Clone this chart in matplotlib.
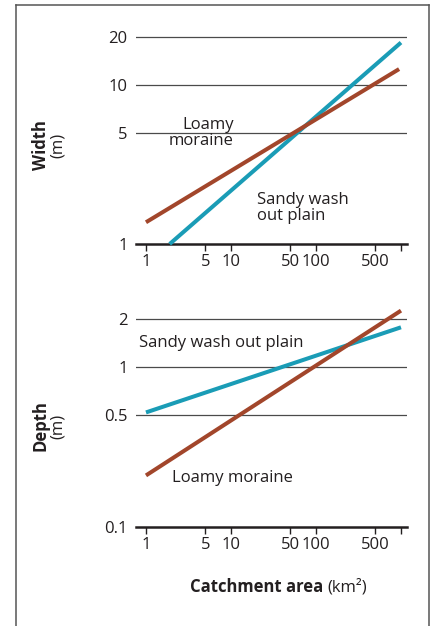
import matplotlib.pyplot as plt
from matplotlib.lines import Line2D
from matplotlib.ticker import NullLocator

plt.rcParams['font.family'] = ['Open Sans', 'DejaVu Sans']

# catchment area axis (km2)
area_ticks = [1, 5, 10, 50, 100, 500, 1000]
area_labels = ['1', '5', '10', '50', '100', '500', '']

# width panel (m)
width_sandy_area = [1.9, 1000]
width_sandy = [1.0, 18.5]
width_loamy_area = [1, 950]
width_loamy = [1.37, 12.6]
width_ticks = [1, 5, 10, 20]
width_labels = ['1', '5', '10', '20']

# depth panel (m)
depth_area = [1, 1000]
depth_sandy = [0.52, 1.77]
depth_loamy = [0.21, 2.25]
depth_ticks = [0.1, 0.5, 1, 2]
depth_labels = ['0.1', '0.5', '1', '2']

BLUE = '#1a9cb6'
BROWN = '#a2462b'
INK = '#231f20'
GRID = '#4a4a4a'

W, H = 431, 626
fig = plt.figure(figsize=(W / 100, H / 100), dpi=100)


def px(x0, y0, x1, y1):
    # pixel box -> figure fraction [left, bottom, width, height]
    return [x0 / W, 1 - y1 / H, (x1 - x0) / W, (y1 - y0) / H]


def setup(ax, ticks, labels, ylim):
    ax.set_xscale('log')
    ax.set_yscale('log')
    ax.set_xlim(0.763, 1177)
    ax.set_ylim(*ylim)
    ax.patch.set_visible(False)
    for s in ['top', 'right', 'left']:
        ax.spines[s].set_visible(False)
    ax.spines['bottom'].set_linewidth(1.8)
    ax.spines['bottom'].set_color(INK)
    ax.set_xticks(area_ticks)
    ax.set_xticklabels(area_labels)
    ax.set_yticks(ticks)
    ax.set_yticklabels(labels)
    ax.xaxis.set_minor_locator(NullLocator())
    ax.yaxis.set_minor_locator(NullLocator())
    ax.tick_params(axis='y', length=0, pad=6, labelsize=12, labelcolor=INK)
    ax.tick_params(axis='x', length=5, width=1, color=INK, pad=2,
                   labelsize=12, labelcolor=INK)
    for t in ticks[1:]:
        ax.axhline(t, color=GRID, lw=0.9, zorder=1)


ax1 = fig.add_axes(px(136, 30.6, 407, 244))
setup(ax1, width_ticks, width_labels, (1, 22))
ax1.plot(width_sandy_area, width_sandy, color=BLUE, lw=2.9,
         solid_capstyle='butt', zorder=3, clip_on=False)
ax1.plot(width_loamy_area, width_loamy, color=BROWN, lw=2.9,
         solid_capstyle='butt', zorder=3, clip_on=False)
ax1.text(10.8, 5.0, 'Loamy\nmoraine', ha='right', va='center',
         multialignment='right', fontsize=12, color=INK, linespacing=1.0)
ax1.text(20.2, 1.69, 'Sandy wash\nout plain', ha='left', va='center',
         fontsize=12, color=INK, linespacing=1.0)

ax2 = fig.add_axes(px(136, 303.3, 407, 527))
setup(ax2, depth_ticks, depth_labels, (0.1, 2.5))
ax2.plot(depth_area, depth_sandy, color=BLUE, lw=2.9,
         solid_capstyle='butt', zorder=3, clip_on=False)
ax2.plot(depth_area, depth_loamy, color=BROWN, lw=2.9,
         solid_capstyle='butt', zorder=3, clip_on=False)
ax2.text(0.83, 1.41, 'Sandy wash out plain', ha='left', va='center',
         fontsize=12, color=INK)
ax2.text(2.02, 0.202, 'Loamy moraine', ha='left', va='center',
         fontsize=12, color=INK)

# y axis titles: bold name + regular unit
for yc, name in [(145, 'Width'), (426, 'Depth')]:
    fig.text(41 / W, 1 - yc / H, name, rotation=90, ha='center', va='center',
             fontsize=12, fontweight='bold', color=INK)
    fig.text(58 / W, 1 - yc / H, '(m)', rotation=90, ha='center', va='center',
             fontsize=12, color=INK)

# x axis title
t1 = fig.text(190 / W, 1 - 587 / H, 'Catchment area', ha='left', va='center',
              fontsize=12, fontweight='bold', color=INK)
fig.canvas.draw()
bb = t1.get_window_extent()
fig.text((bb.x1 + 4) / W, 1 - 587 / H, '(km²)', ha='left', va='center',
         fontsize=12, color=INK)

# outer frame
fc = '#555555'
fig.add_artist(Line2D([16 / W, 16 / W], [0, 1 - 5 / H], color=fc, lw=1.1))
fig.add_artist(Line2D([16 / W, 429 / W], [1 - 5 / H, 1 - 5 / H], color=fc, lw=1.1))
fig.add_artist(Line2D([429 / W, 429 / W], [0, 1 - 5 / H], color=fc, lw=1.1))

fig.savefig('out.png', dpi=100)
